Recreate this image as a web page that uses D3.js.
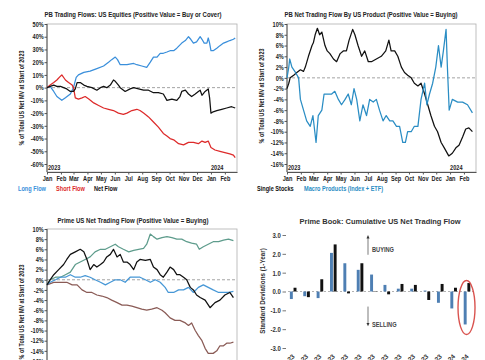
<!DOCTYPE html>
<html><head><meta charset="utf-8">
<script src="https://cdn.jsdelivr.net/npm/d3@7"></script>
<style>body{margin:0;background:#fff}svg{display:block}</style>
</head><body><svg id="c" width="485" height="360"></svg>
<script>
// ---------- DATA ----------
const monthLabels = ["Jan","Feb","Mar","Apr","May","Jun","Jul","Aug","Sep","Oct","Nov","Dec","Jan","Feb"];
const p1Ticks = [50,40,30,20,10,0,-10,-20,-30,-40,-50,-60];
const p2Ticks = [10,8,6,4,2,0,-2,-4,-6,-8,-10,-12,-14,-16];
const p3Ticks = [10,8,6,4,2,0,-2,-4,-6,-8,-10,-12,-14,-16];
// [days since 2023-01-01, % of total US net MV]
const p1Long = [[0,0],[7,1],[15,-3],[22,-7],[33,-10],[41,-8],[52,-5],[59,0],[65,8],[70,10],[82,12],[96,13],[111,15],[126,17],[137,20],[144,22],[152,24],[157,22],[163,18],[178,18],[193,19],[200,18],[211,17],[222,16],[230,20],[237,24],[245,24],[252,27],[259,27],[267,28],[274,29],[282,29],[289,31],[300,35],[308,37],[315,40],[320,38],[326,35],[333,36],[341,40],[345,38],[350,35],[356,35],[359,39],[362,35],[365,29],[370,29],[378,31],[385,33],[393,35],[400,36],[407,37],[415,38],[419,39]];
const p1Short = [[0,0],[7,2],[15,4],[22,6],[30,9],[33,10],[41,6],[48,4],[56,2],[59,0],[63,-8],[70,-9],[78,-8],[85,-7],[93,-9],[104,-12],[115,-14],[126,-16],[137,-17],[148,-18],[159,-20],[170,-21],[178,-20],[189,-18],[200,-17],[207,-18],[215,-20],[226,-23],[237,-27],[248,-31],[259,-36],[267,-38],[274,-40],[282,-41],[293,-44],[304,-45],[315,-43],[326,-43],[337,-44],[345,-42],[352,-43],[359,-42],[365,-47],[374,-49],[385,-50],[396,-51],[407,-52],[415,-53],[419,-55]];
const p1Net = [[0,0],[7,1],[15,2],[22,1],[30,1],[37,0],[44,-1],[52,-3],[59,-3],[63,-1],[67,4],[74,4],[82,2],[89,1],[100,0],[111,-2],[119,0],[126,1],[133,0],[141,2],[148,6],[152,5],[159,2],[163,0],[174,-3],[185,-1],[193,0],[204,-1],[215,-2],[226,-2],[237,-4],[248,-4],[259,-5],[267,-10],[278,-9],[289,-10],[296,-7],[300,-3],[308,-2],[315,-5],[322,-7],[330,-5],[337,-3],[341,-2],[345,-6],[352,-3],[359,-1],[362,-8],[365,-20],[370,-19],[378,-18],[389,-17],[400,-16],[411,-15],[419,-16]];
const p2Single = [[0,-2],[4,-1],[7,0],[15,0.5],[22,1],[30,1.5],[37,1.2],[41,2],[48,4],[56,6],[59,6.5],[63,8],[68,9.2],[73,8],[78,8.5],[85,6],[90,5],[96,4.5],[104,3.5],[111,3],[119,4.5],[126,5],[133,5],[139,7],[147,9],[152,8],[159,6],[167,4],[174,5],[182,3],[189,3],[200,3.5],[211,4],[221,5],[228,7],[233,5],[241,5],[248,4],[256,2],[263,1],[270,0.5],[278,0],[285,-1],[293,-1.5],[300,-1],[308,-3],[315,-5],[322,-7],[330,-9],[337,-10],[345,-12],[352,-13],[362,-14.5],[370,-14],[378,-13],[385,-12.5],[393,-11],[400,-9.5],[407,-9.3],[415,-10]];
const p2Macro = [[0,0],[4,2],[6,3.5],[11,2],[19,1],[26,0],[30,-4],[37,-6],[44,-8],[52,-9],[58,-7],[65,-12],[70,-7],[78,-6],[83,-3],[90,-3],[100,-3],[107,-2.5],[115,-4],[122,-5],[130,-4],[137,-3],[144,-5],[150,-2],[156,-4],[163,-8],[170,-5],[178,-7],[185,-4],[193,-4.5],[200,-4],[207,-6],[215,-8],[222,-7],[230,-8],[237,-8],[245,-9],[252,-9],[259,-12],[265,-12],[270,-10],[278,-10],[285,-9],[293,-9],[300,-4],[308,-1],[313,-5],[319,-3],[326,-1],[333,2],[339,6],[345,2],[350,5],[356,9],[359,2],[363,-6],[370,-4],[382,-4.5],[393,-4.5],[404,-5],[415,-6.5]];
const p3Teal = [[0,-1],[7,0],[19,0.5],[30,0.5],[41,1],[52,1.5],[63,3],[74,3.5],[85,4],[96,4.5],[107,5.5],[119,6],[130,6],[141,6.5],[152,7],[159,6.5],[170,6],[182,5.5],[193,5.8],[204,6],[215,6.2],[222,7],[230,9],[237,8.5],[245,8],[256,8.3],[267,8.5],[278,8.3],[289,8],[300,8],[311,7.5],[322,7.2],[333,7],[339,6],[348,6.5],[359,7],[370,7.5],[382,7.5],[393,7.8],[404,8],[415,7.7]];
const p3Net = [[0,-1],[7,0],[15,1],[26,2],[37,3],[44,4],[52,5],[63,5.5],[74,6],[82,5.5],[89,4],[96,2],[104,3],[111,2.5],[119,3],[126,3.5],[133,4.5],[141,5],[148,6],[156,4.5],[163,5],[170,3.5],[178,3.5],[185,3],[193,2],[200,3.5],[207,4],[219,3.8],[230,4],[237,2.5],[245,2],[252,1],[259,0.5],[267,1.5],[274,2.5],[282,2],[289,1],[296,1],[304,0.5],[311,0],[319,-1.5],[326,-2],[333,-3],[341,-3.5],[352,-4],[363,-5.5],[374,-4.5],[385,-4],[396,-3],[407,-2.5],[415,-3.5]];
const p3Blue = [[0,-1],[7,-0.5],[19,0],[30,0.5],[41,0.5],[52,1],[63,0.5],[74,0.5],[85,0.8],[96,0.5],[107,0],[119,-0.5],[130,-1],[141,-0.5],[152,0],[163,0],[174,-0.5],[185,0.5],[196,0.5],[207,0.5],[219,0],[230,-0.5],[241,0],[252,-0.5],[263,-1.5],[270,-2.5],[282,-2.5],[293,-2],[304,-2],[315,-1.5],[326,-2.5],[337,-1.5],[348,-1],[359,-1.5],[370,-2],[382,-2.5],[393,-2.5],[404,-2.5],[415,-2.3]];
const p3Brown = [[0,-1],[15,-0.5],[30,-0.5],[44,-0.5],[56,-1],[67,-1],[78,-2],[89,-2.5],[100,-2.5],[111,-3],[122,-3.2],[133,-3.5],[144,-4],[156,-4.5],[167,-5],[178,-5],[189,-5.2],[200,-5.5],[211,-5.8],[222,-6],[233,-5.8],[245,-5.5],[256,-6],[263,-6.5],[274,-7.5],[285,-8],[296,-8],[308,-8.5],[315,-9],[322,-8.5],[330,-10],[337,-11],[345,-12],[352,-13.5],[359,-14.5],[370,-14.5],[378,-14],[385,-13],[393,-13],[400,-12.5],[407,-12.5],[415,-12.3]];
const barCats = ["Jan-23","Feb-23","Mar-23","Apr-23","May-23","Jun-23","Jul-23","Aug-23","Sep-23","Oct-23","Nov-23","Dec-23","Jan-24","Feb-24"];
const barMacro  = [-0.4,-0.25,-0.35,2.05,1.5,1.15,0.9,0.35,0.15,0.15,0.05,-0.6,-0.9,-1.75];
const barSingle = [0.2,-0.3,0.65,2.5,-0.1,1.5,0.02,-0.15,0.4,0.35,-0.45,0.4,0.2,0.45];
const barTicks = [3,2,1,0,-1,-2,-3];

// ---------- DRAW ----------
const svg = d3.select("#c");
const FW = "'Liberation Sans',Arial,sans-serif";
const SX = 0.8; // horizontal squeeze to imitate a narrow bold face
const base = new Date(2023,0,1);
const endD = new Date(2024,1,28);
const toDate = d => d3.timeDay.offset(base, d);

function txt(g, x, y, s, o={}) {
  const sx = o.sx == null ? SX : o.sx;
  const t = g.append("text")
    .attr("transform", `translate(${x},${y})${o.rot ? ` rotate(${o.rot})` : ""} scale(${sx},1)`)
    .text(s).attr("font-family", FW).attr("font-weight","bold")
    .attr("font-size", o.size || 7).attr("fill", o.fill || "#222")
    .attr("text-anchor", o.anchor || "start");
  if (o.len) t.attr("textLength", o.len / sx).attr("lengthAdjust","spacingAndGlyphs");
  return t;
}
function styleTicks(sel, size) {
  sel.selectAll("text").attr("font-family",FW).attr("font-weight","bold")
    .attr("font-size",size).attr("fill","#222")
    .attr("transform", `scale(${SX},1)`);
}

function linePanel(o) {
  const g = svg.append("g");
  const x = d3.scaleTime().domain([base, endD]).range([o.x0, o.x1]);
  const y = d3.scaleLinear().domain([o.ticks[0], o.ticks[o.ticks.length-1]]).range([o.yt, o.yb]);
  g.append("rect").attr("x",o.x0).attr("y",o.boxTop).attr("width",o.x1-o.x0)
    .attr("height",o.boxBot-o.boxTop).attr("fill","none").attr("stroke","#b0b0b0").attr("stroke-width",0.8);
  g.append("line").attr("x1",o.x0).attr("x2",o.x1).attr("y1",y(0)).attr("y2",y(0))
    .attr("stroke","#9a9a9a").attr("stroke-width",0.9).attr("stroke-dasharray","3,2");
  const ya = g.append("g").attr("transform",`translate(${o.x0},0)`)
    .call(d3.axisLeft(y).tickValues(o.ticks).tickSize(2.5).tickPadding(1.5).tickFormat(d => d + "%"));
  ya.select(".domain").remove();
  ya.selectAll("line").attr("stroke","#555");
  styleTicks(ya, 7);
  g.append("line").attr("x1",o.x0).attr("x2",o.x0).attr("y1",o.boxTop).attr("y2",o.boxBot).attr("stroke","#444").attr("stroke-width",0.9);
  const months = d3.timeMonth.range(base, new Date(2024,1,2));
  const xa = g.append("g").attr("transform",`translate(0,${o.boxBot})`)
    .call(d3.axisBottom(x).tickValues(months).tickSize(2.5).tickSizeOuter(0).tickPadding(2).tickFormat((d,i) => monthLabels[i]));
  xa.select(".domain").attr("stroke","#444").attr("stroke-width",0.9);
  xa.selectAll("line").attr("stroke","#555");
  styleTicks(xa, 7);
  const line = d3.line().x(d => x(toDate(d[0]))).y(d => y(d[1]));
  o.series.forEach(s => {
    g.append("path").datum(s.data).attr("fill","none").attr("stroke",s.color)
      .attr("stroke-width",1.25).attr("stroke-linejoin","round").attr("d",line);
  });
  txt(g, o.x0 + 1, o.boxBot - 2, "2023");
  txt(g, x(new Date(2024,0,1)), o.boxBot - 2, "2024");
  txt(g, o.tx, o.ty, o.title, {anchor:"middle", len:o.tlen, size:7});
  txt(g, o.ytx, o.yty, "% of Total US Net MV at Start of 2023", {anchor:"middle", size:6.8, rot:-90});
  (o.legend || []).forEach(l => txt(g, l.x, o.legY, l.label, {fill:l.color}));
}

linePanel({x0:47, x1:237, ticks:p1Ticks, yt:24, yb:164, boxTop:24, boxBot:172,
  title:"PB Trading Flows: US Equities (Positive Value = Buy or Cover)", tx:133, ty:17, tlen:177,
  ytx:24, yty:98, legY:191,
  series:[{data:p1Long,color:"#3a8fdb"},{data:p1Short,color:"#dd2a2a"},{data:p1Net,color:"#111"}],
  legend:[{x:18,label:"Long Flow",color:"#3a8fdb"},{x:56,label:"Short Flow",color:"#dd2a2a"},{x:94,label:"Net Flow",color:"#111"}]});

linePanel({x0:287, x1:476, ticks:p2Ticks, yt:24, yb:164, boxTop:24, boxBot:172,
  title:"PB Net Trading Flow By US Product (Positive Value = Buying)", tx:371, ty:17, tlen:173,
  ytx:264, yty:96, legY:191,
  series:[{data:p2Single,color:"#111"},{data:p2Macro,color:"#2a8dc4"}],
  legend:[{x:257,label:"Single Stocks",color:"#111"},{x:304,label:"Macro Products (Index + ETF)",color:"#2a8dc4"}]});

linePanel({x0:47, x1:237, ticks:p3Ticks, yt:229, yb:361, boxTop:229, boxBot:372,
  title:"Prime US Net Trading Flow (Positive Value = Buying)", tx:133, ty:223, tlen:151,
  ytx:24, yty:312, legY:400,
  series:[{data:p3Teal,color:"#5e9c8c"},{data:p3Brown,color:"#8a5b56"},{data:p3Blue,color:"#4697d6"},{data:p3Net,color:"#111"}]});

// ---------- BAR PANEL ----------
(function(){
  const g = svg.append("g");
  const x = d3.scaleBand().domain(barCats).range([286.5, 473.7]).padding(0);
  const xi = d3.scaleBand().domain(["macro","single"]).range([-3.3, 3.3]).paddingInner(0.2);
  const y = d3.scaleLinear().domain([3,-3]).range([235, 348]);
  const ya = g.append("g").attr("transform","translate(286,0)")
    .call(d3.axisLeft(y).tickValues(barTicks).tickSize(3.5).tickPadding(3).tickFormat(d => d.toFixed(1)));
  ya.select(".domain").remove();
  ya.selectAll("line").attr("stroke","#777");
  styleTicks(ya, 7.5);
  ya.selectAll("text").attr("fill","#333");
  g.append("line").attr("x1",288).attr("x2",475).attr("y1",y(0)).attr("y2",y(0))
    .attr("stroke","#aaa").attr("stroke-width",0.9).attr("stroke-dasharray","2,2");
  const rows = barCats.map((c,i) => ({c, macro:barMacro[i], single:barSingle[i]}));
  const grp = g.selectAll(".grp").data(rows).enter().append("g")
    .attr("transform", d => `translate(${x(d.c) + x.bandwidth()/2},0)`);
  grp.append("rect").attr("x", xi("macro")).attr("width", xi.bandwidth())
    .attr("y", d => y(Math.max(0,d.macro))).attr("height", d => Math.abs(y(d.macro)-y(0)))
    .attr("fill","#4e7fb3");
  grp.append("rect").attr("x", xi("single")).attr("width", xi.bandwidth())
    .attr("y", d => y(Math.max(0,d.single))).attr("height", d => Math.abs(y(d.single)-y(0)))
    .attr("fill","#111");
  grp.append("text").text(d => d.c)
    .attr("transform","translate(2,357) rotate(-45)").attr("text-anchor","end")
    .attr("font-family",FW).attr("font-weight","bold").attr("font-size",6.5).attr("fill","#333");
  txt(g, 380, 224, "Prime Book: Cumulative US Net Trading Flow", {anchor:"middle", size:8, len:161, fill:"#333", sx:1});
  txt(g, 265, 291, "Standard Deviations (1-Year)", {anchor:"middle", size:7, fill:"#333", rot:-90, sx:0.9});
  const ax = 368;
  g.append("line").attr("x1",ax).attr("x2",ax).attr("y1",y(1.95)).attr("y2",y(2.85)).attr("stroke","#444").attr("stroke-width",0.7);
  g.append("path").attr("d",`M${ax-1.5},${y(2.82)}L${ax},${y(3.0)}L${ax+1.5},${y(2.82)}Z`).attr("fill","#333");
  txt(g, ax+4, y(2.2)+2, "BUYING", {size:6.3, fill:"#444", sx:0.9});
  g.append("line").attr("x1",ax).attr("x2",ax).attr("y1",y(-0.8)).attr("y2",y(-1.7)).attr("stroke","#444").attr("stroke-width",0.7);
  g.append("path").attr("d",`M${ax-1.5},${y(-1.67)}L${ax},${y(-1.85)}L${ax+1.5},${y(-1.67)}Z`).attr("fill","#333");
  txt(g, ax+4, y(-1.8)+2, "SELLING", {size:6.3, fill:"#444", sx:0.9});
  const last = barCats[barCats.length-1];
  g.append("ellipse").attr("cx", x(last) + x.bandwidth()/2 - 0.5).attr("cy", y(-0.85))
    .attr("rx", 8.5).attr("ry", 27).attr("fill","none").attr("stroke","#d9534f").attr("stroke-width",1.4);
})();
</script></body></html>
